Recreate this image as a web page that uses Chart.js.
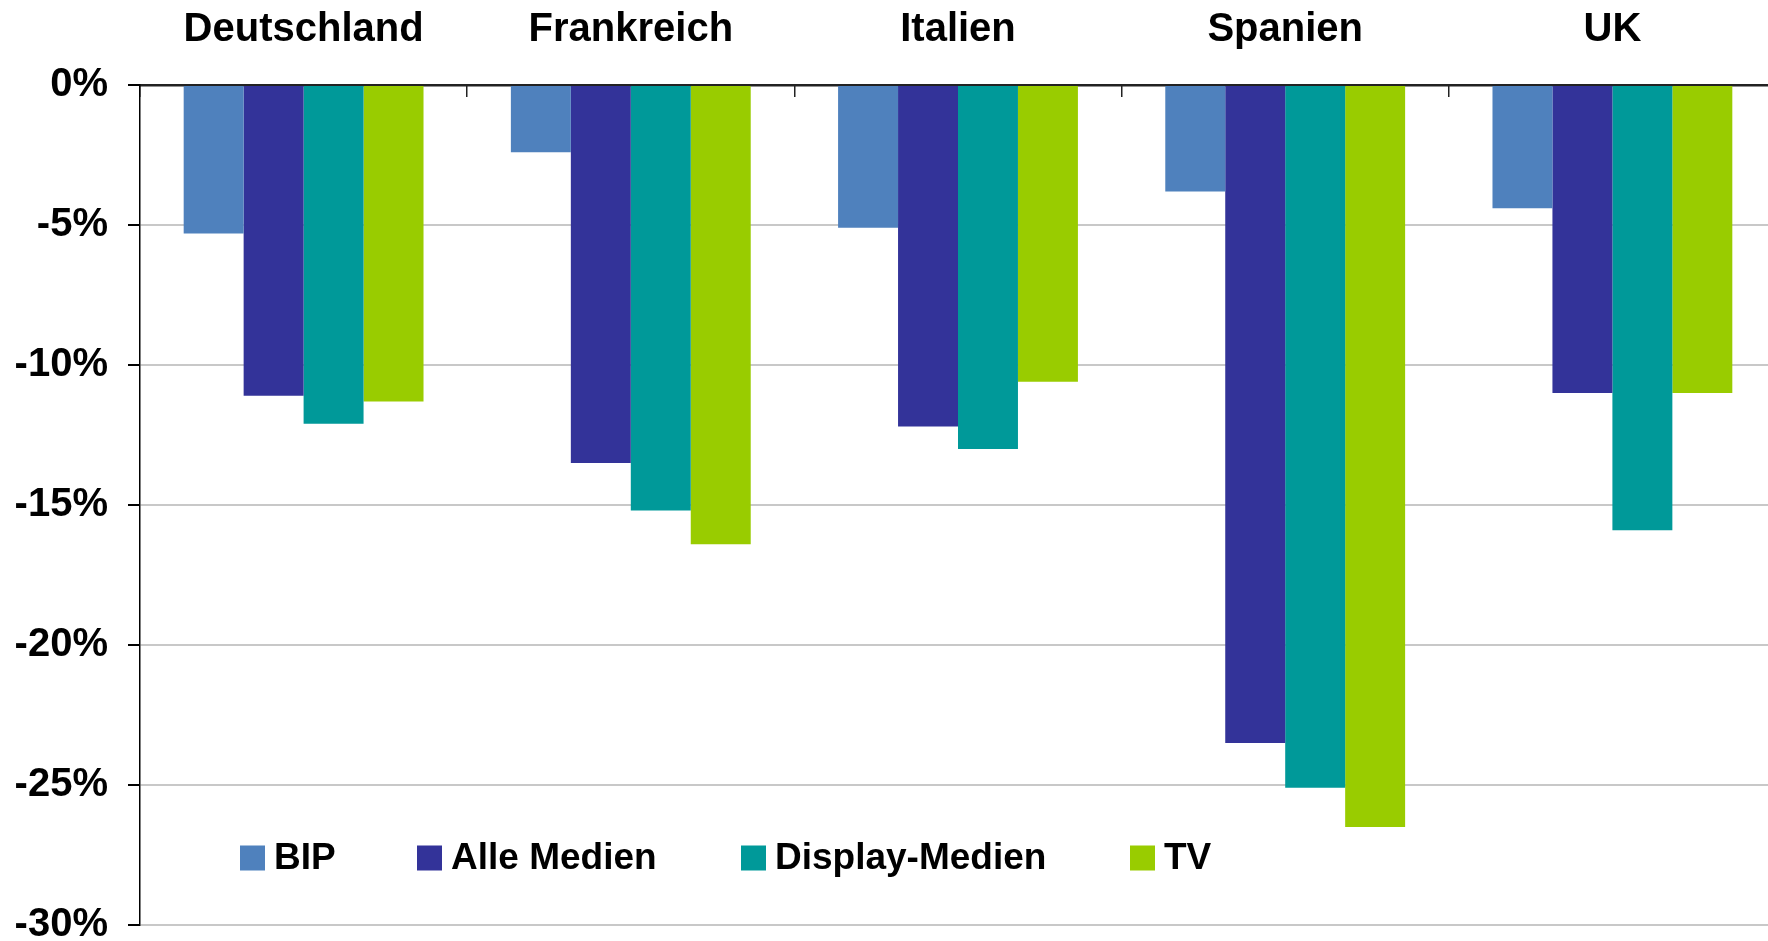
<!DOCTYPE html>
<html>
<head>
<meta charset="utf-8">
<script src="https://cdn.jsdelivr.net/npm/chart.js@4/dist/chart.umd.min.js"></script>
<style>
  html, body { margin: 0; padding: 0; background: #fff; overflow: hidden; width: 1768px; height: 941px; }
  canvas { display: block; }
</style>
</head>
<body>
<canvas id="c" width="1776" height="941"></canvas>
<script>
const categories = ['Deutschland', 'Frankreich', 'Italien', 'Spanien', 'UK'];
const seriesNames = ['BIP', 'Alle Medien', 'Display-Medien', 'TV'];
const bip          = [-5.3, -2.4, -5.1, -3.8, -4.4];
const alleMedien   = [-11.1, -13.5, -12.2, -23.5, -11.0];
const displayMedien= [-12.1, -15.2, -13.0, -25.1, -15.9];
const tv           = [-11.3, -16.4, -10.6, -26.5, -11.0];
const colors = ['#4F81BD', '#333399', '#009999', '#99CC00'];
const yTicks = [0, -5, -10, -15, -20, -25, -30];

const FONT = '"Liberation Sans", Arial, Helvetica, sans-serif';

const legendPlugin = {
  id: 'inlineLegend',
  afterDraw(chart) {
    const ctx = chart.ctx;
    const boxX = [240, 417, 741, 1130];
    const yc = 858;
    const size = 25;
    ctx.save();
    ctx.font = 'bold 37px ' + FONT;
    ctx.textBaseline = 'middle';
    ctx.textAlign = 'left';
    chart.data.datasets.forEach((ds, i) => {
      ctx.fillStyle = ds.backgroundColor;
      ctx.fillRect(boxX[i], yc - size / 2, size, size);
      ctx.fillStyle = '#000';
      ctx.fillText(ds.label, boxX[i] + size + 9, yc + 1);
    });
    ctx.restore();
  }
};

const seriesData = [bip, alleMedien, displayMedien, tv];

new Chart(document.getElementById('c'), {
  type: 'bar',
  data: {
    labels: categories,
    datasets: seriesNames.map((n, i) => ({
      label: n,
      data: seriesData[i],
      backgroundColor: colors[i],
      borderWidth: 0,
      categoryPercentage: 0.733,
      barPercentage: 1.0
    }))
  },
  options: {
    responsive: false,
    animation: false,
    layout: { autoPadding: false, padding: { left: 0, right: 0, top: 0, bottom: 16 } },
    plugins: {
      legend: { display: false },
      tooltip: { enabled: false }
    },
    scales: {
      x: {
        position: 'top',
        offset: true,
        afterFit: s => { s.height = 85; s.paddingLeft = 0; s.paddingRight = 0; },
        grid: {
          display: true,
          drawOnChartArea: false,
          drawTicks: true,
          tickLength: -12,
          tickColor: '#222',
          lineWidth: 1.5
        },
        border: { display: true, color: '#222', width: 2.5 },
        ticks: {
          color: '#000',
          padding: 43,
          font: { family: FONT, size: 40, weight: 'bold' }
        }
      },
      y: {
        min: -30,
        max: 0,
        afterFit: s => { s.width = 140; s.paddingTop = 0; s.paddingBottom = 0; },
        afterBuildTicks: s => { s.ticks = yTicks.map(v => ({ value: v })); },
        grid: {
          color: '#c8c8c8',
          lineWidth: 2,
          tickColor: '#000',
          tickLength: 12
        },
        border: { display: true, color: '#000', width: 1.5 },
        ticks: {
          color: '#000',
          padding: 20,
          font: { family: FONT, size: 40, weight: 'bold' },
          callback: v => v + '%'
        }
      }
    }
  },
  plugins: [legendPlugin]
});
</script>
</body>
</html>
